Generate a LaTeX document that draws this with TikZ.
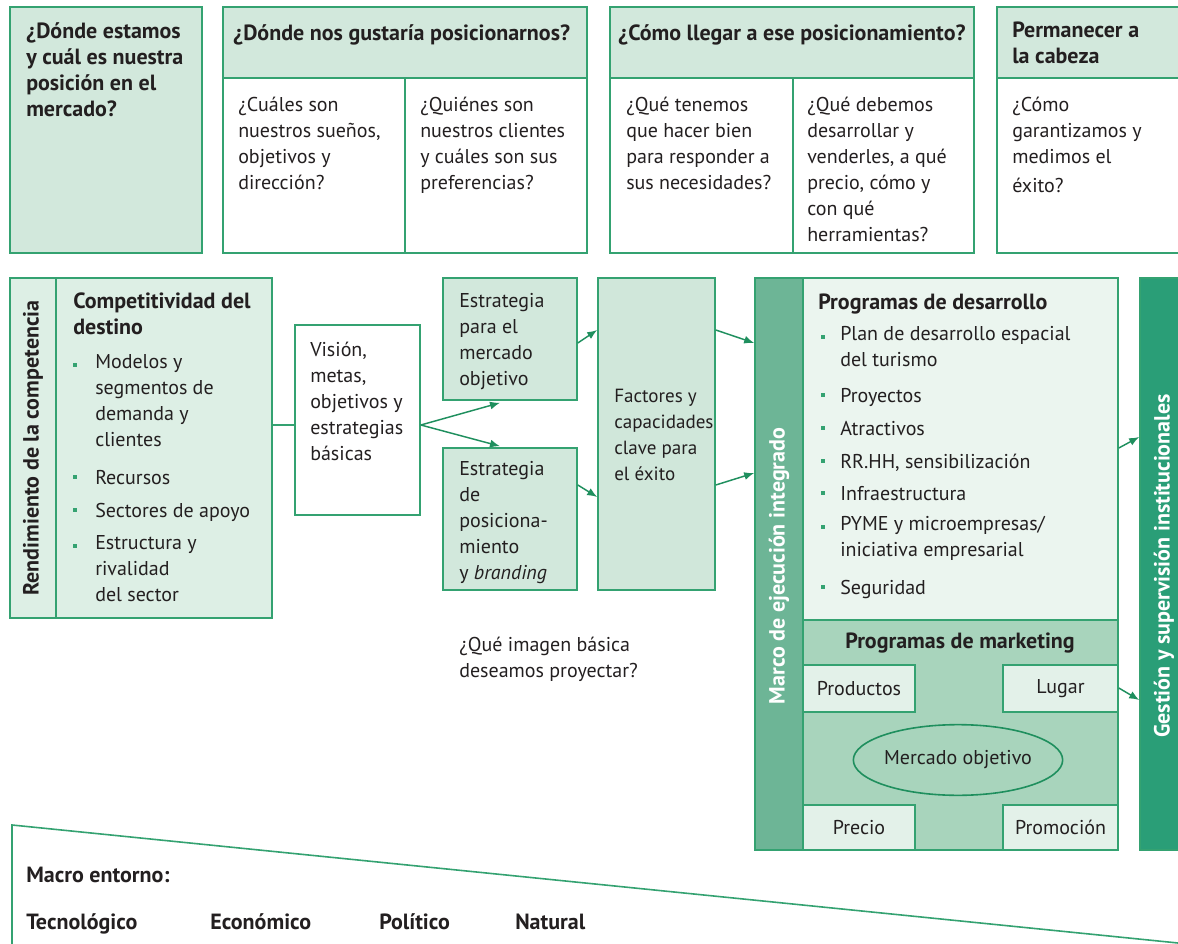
\documentclass[tikz,border=0pt]{standalone}
\usepackage{fontspec}
\setmainfont{PT Sans}
\usetikzlibrary{fit,calc,arrows.meta,shapes.geometric}
\definecolor{gline}{HTML}{34A271}
\definecolor{garrow}{HTML}{1F8F5E}
\definecolor{fhead}{HTML}{D2E8DC}
\definecolor{fleft}{HTML}{DDEFE5}
\definecolor{ffac}{HTML}{D0E7DA}
\definecolor{fmarco}{HTML}{6DB596}
\definecolor{fdes}{HTML}{EBF5EF}
\definecolor{fmkt}{HTML}{A8D4BC}
\definecolor{fsmall}{HTML}{E3F1E9}
\definecolor{fgest}{HTML}{2A9E77}
\definecolor{tcol}{HTML}{231F20}
\newcommand{\myfs}{\fontsize{15}{19.5}\selectfont}
\newcommand{\myfb}{\fontsize{16.5}{19.5}\selectfont\bfseries}
\begin{document}
\begin{tikzpicture}[x=0.75pt,y=-0.75pt,
  box/.style={draw=gline,line width=1.2pt,inner sep=0pt},
  txt/.style={anchor=north west,align=left,inner sep=0pt,yshift=-4.5pt,font=\myfs\strut,text=tcol},
  btxt/.style={txt,font=\myfb\strut},
  ctxt/.style={inner sep=0pt,font=\myfs,text=tcol},
  rtxt/.style={inner sep=0pt,font=\myfb,rotate=90},
  bul/.style={fill=gline,minimum size=2.4pt,inner sep=0pt},
  arr/.style={draw=garrow,line width=1.1pt,-{Latex[length=7.5pt,width=6pt]}}]
\useasboundingbox (0,0) rectangle (1178,944);
% ---------- top row
\node[box,fill=fhead,fit={(10,7)(202,253)}] (b1) {};
\node[box,fill=fhead,fit={(223,7)(587,78)}] (b2h) {};
\node[box,fill=white,fit={(223,78)(405,253)}] (b2a) {};
\node[box,fill=white,fit={(405,78)(587,253)}] (b2b) {};
\node[box,fill=fhead,fit={(610,7)(974,78)}] (b3h) {};
\node[box,fill=white,fit={(610,78)(793,253)}] (b3a) {};
\node[box,fill=white,fit={(793,78)(974,253)}] (b3b) {};
\node[box,fill=fhead,fit={(997,7)(1182,78)}] (b4h) {};
\node[box,fill=white,fit={(997,78)(1182,253)}] (b4a) {};
\node[btxt] (t1) at (26,16) {¿Dónde estamos\\y cuál es nuestra\\posición en el\\mercado?};
\node[btxt] (t2h) at (233,16) {¿Dónde nos gustaría posicionarnos?};
\node[txt] (t2a) at (238,91) {¿Cuáles son\\nuestros sueños,\\objetivos y\\dirección?};
\node[txt] (t2b) at (420,91) {¿Quiénes son\\nuestros clientes\\y cuáles son sus\\preferencias?};
\node[btxt] (t3h) at (618,16) {¿Cómo llegar a ese posicionamiento?};
\node[txt] (t3a) at (626,91) {¿Qué tenemos\\que hacer bien\\para responder a\\sus necesidades?};
\node[txt] (t3b) at (807,91) {¿Qué debemos\\desarrollar y\\venderles, a qué\\precio, cómo y\\con qué\\herramientas?};
\node[btxt] (t4h) at (1012,16) {Permanecer a\\la cabeza};
\node[txt] (t4a) at (1012,91) {¿Cómo\\garantizamos y\\medimos el\\[2pt]éxito?};
% ---------- left block
\node[box,fill=fleft,fit={(10,278)(56,618)}] (lstrip) {};
\node[box,fill=fleft,fit={(56,278)(272,618)}] (lmain) {};
\node[rtxt,text=tcol] (lrot) at (33,448) {Rendimiento de la competencia};
\node[btxt] (ltit) at (73,287) {Competitividad del\\destino};
\node[bul] (lb1) at (75,365) {};
\node[txt] (li1) at (95,348) {Modelos y\\segmentos de\\demanda y\\clientes};
\node[bul] (lb2) at (75,477) {};
\node[txt] (li2) at (95,460) {Recursos};
\node[bul] (lb3) at (75,510) {};
\node[txt] (li3) at (95,493) {Sectores de apoyo};
\node[bul] (lb4) at (75,546) {};
\node[txt] (li4) at (95,529) {Estructura y\\rivalidad\\del sector};
% ---------- vision
\node[box,fill=white,fit={(295,325)(420,515)}] (vis) {};
\node[txt] (vist) at (310,336) {Visión,\\metas,\\objetivos y\\estrategias\\básicas};
% ---------- strategies
\node[box,fill=fhead,fit={(443,278)(577,400)}] (sm) {};
\node[txt] (smt) at (459,287) {Estrategia\\para el\\mercado\\objetivo};
\node[box,fill=fhead,fit={(443,448)(577,590)}] (sp) {};
\node[txt] (spt) at (459,455) {Estrategia\\de\\posiciona-\\miento\\y \textit{branding}};
\node[box,fill=ffac,fit={(598,278)(715,590)}] (fac) {};
\node[txt,font=\fontsize{14.3}{19.5}\selectfont\strut] (fact) at (614,383) {Factores y\\capacidades\\clave para\\el éxito};
\node[txt] (q) at (459,631) {¿Qué imagen básica\\deseamos proyectar?};
% ---------- marco
\node[box,fill=fmarco,fit={(755,278)(803,850)}] (marco) {};
\node[rtxt,text=white] (marcot) at (779,566) {Marco de ejecución integrado};
\node[box,fill=fdes,fit={(803,278)(1118,620)}] (des) {};
\node[box,fill=fmkt,fit={(803,620)(1118,850)}] (mkt) {};
\node[btxt] (dest) at (818,285) {Programas de desarrollo};
\node[bul] (db1) at (823,337) {};
\node[txt] (di1) at (840,320) {Plan de desarrollo espacial\\del turismo};
\node[bul] (db2) at (823,395) {};
\node[txt] (di2) at (840,378) {Proyectos};
\node[bul] (db3) at (823,428) {};
\node[txt] (di3) at (840,411) {Atractivos};
\node[bul] (db4) at (823,461) {};
\node[txt] (di4) at (840,444) {RR.HH, sensibilización};
\node[bul] (db5) at (823,493) {};
\node[txt] (di5) at (840,476) {Infraestructura};
\node[bul] (db6) at (823,527) {};
\node[txt] (di6) at (840,510) {PYME y microempresas/\\iniciativa empresarial};
\node[bul] (db7) at (823,587) {};
\node[txt] (di7) at (840,570) {Seguridad};
\node[ctxt,font=\myfb] (mktt) at (960,643) {Programas de marketing};
\node[box,fill=fsmall,fit={(803,665)(915,712)}] (prod) {};
\node[ctxt] (prodt) at (prod) {Productos};
\node[box,fill=fsmall,fit={(1003,665)(1118,712)}] (lug) {};
\node[ctxt] (lugt) at (lug) {Lugar};
\node[box,fill=fsmall,fit={(803,805)(915,850)}] (pre) {};
\node[ctxt] (pret) at (pre) {Precio};
\node[box,fill=fsmall,fit={(1003,805)(1118,850)}] (pro) {};
\node[ctxt] (prot) at (pro) {Promoción};
\node[ellipse,draw=garrow,line width=1.2pt,minimum width=157pt,minimum height=53pt,inner sep=0pt,font=\myfs,text=tcol] (mo) at (958,760) {Mercado objetivo};
% ---------- gestion
\node[box,fill=fgest,fit={(1140,278)(1182,850)}] (gest) {};
\node[rtxt,text=white] (gestt) at (1164,566) {Gestión y supervisión institucionales};
% ---------- connectors
\draw[draw=gline,line width=1.2pt] (lmain.east |- 0,425) -- (vis.west |- 0,425);
\draw[arr] ($(vis.east)+(0,5)$) -- ($(sm.south)+(-10,2)$);
\draw[arr] ($(vis.east)+(0,5)$) -- ($(sp.north)+(-10,-1)$);
\draw[arr] ($(sm.east)+(0,4)$) -- ($(fac.west)+(0,-104)$);
\draw[arr] ($(sp.east)+(0,-34)$) -- ($(fac.west)+(0,63)$);
\draw[arr] ($(fac.east)+(0,-104)$) -- ($(marco.west)+(0,-221)$);
\draw[arr] ($(fac.east)+(0,51)$) -- ($(marco.west)+(0,-91)$);
\draw[arr] ($(des.east)+(0,-1)$) -- ($(gest.west)+(0,-127)$);
\draw[arr] ($(mkt.east)+(0,-47)$) -- ($(gest.west)+(0,136)$);
% ---------- macro environment
\coordinate (mA) at (12,960);
\coordinate (mB) at (12,825);
\coordinate (mC) at (1178,943);
\draw[draw=gline,line width=1.2pt] (mA) -- (mB) -- (mC);
\node[btxt] (macro) at (26,858) {Macro entorno:};
\node[btxt] (e1) at (26,905) {Tecnológico};
\node[btxt] (e2) at (210,905) {Económico};
\node[btxt] (e3) at (379,905) {Político};
\node[btxt] (e4) at (515,905) {Natural};
\end{tikzpicture}
\end{document}
